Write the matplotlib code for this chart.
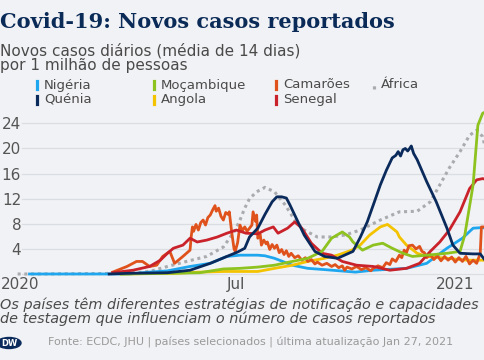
import matplotlib
matplotlib.use("Agg")
import matplotlib.pyplot as plt
from matplotlib.lines import Line2D
from matplotlib.patches import Ellipse

# days counted from 2020-01-01, values = new cases per 1M (14-day avg)
NIGERIA_DAYS = [8, 92, 109, 124, 143, 160, 174, 185, 200, 206, 214, 229, 242, 256, 282, 297, 325, 342, 359, 372, 381, 389, 391]
NIGERIA_VALUES = [0, 0, 0.3, 0.5, 1.2, 1.7, 2.8, 3.0, 3.0, 2.9, 2.5, 1.4, 0.9, 0.7, 0.3, 0.6, 0.9, 1.7, 4.1, 5.7, 7.3, 7.4, 7.3]

KENYA_DAYS = [75, 90, 124, 143, 160, 174, 183, 189, 193, 200, 206, 212, 216, 220, 224, 227, 231, 239, 248, 256, 267, 280,
              286, 292, 298, 303, 308, 313, 316, 318, 320, 322, 324, 326, 328, 329, 331, 334, 342, 350, 359, 364, 370, 381, 387, 391]
KENYA_VALUES = [0, 0.1, 0.2, 0.6, 1.7, 2.8, 3.5, 4.1, 5.9, 7.3, 9.5, 11.5, 12.3, 12.3, 12.1, 11.0, 9.4, 6.2, 3.6, 2.8, 2.5, 3.6,
                5.8, 8.3, 11.5, 14.2, 16.5, 18.5, 18.9, 19.5, 18.8, 19.8, 20.0, 19.6, 20.1, 20.4, 19.2, 18.2, 14.7, 11.5, 7.3, 4.6, 3.3, 3.2, 3.2, 2.2]

MOZAMBIQUE_DAYS = [85, 151, 171, 185, 200, 214, 229, 242, 254, 262, 271, 277, 280, 288, 297, 305, 313, 322, 330, 342, 359, 370, 374, 381, 385, 389, 391]
MOZAMBIQUE_VALUES = [0, 0.2, 0.8, 0.9, 1.1, 1.4, 2.0, 2.5, 3.6, 5.7, 6.7, 5.9, 5.1, 3.8, 4.6, 4.9, 4.1, 3.3, 2.8, 3.0, 3.3, 3.6, 6.2, 14.2, 23.7, 25.6, 25.8]

ANGOLA_DAYS = [85, 130, 151, 172, 200, 214, 229, 242, 256, 267, 279, 286, 294, 303, 309, 317, 319, 325, 334, 342, 359, 376, 389, 391]
ANGOLA_VALUES = [0, 0.1, 0.3, 0.4, 0.4, 0.9, 1.4, 2.0, 2.5, 3.0, 3.8, 4.6, 6.2, 7.5, 7.9, 6.7, 5.9, 4.6, 3.3, 2.8, 2.5, 2.2, 2.2, 2.2]

CAMEROON_DAYS = [78, 90, 98, 103, 109, 115, 120, 126, 130, 137, 143, 144, 145, 146, 148, 150, 152, 154, 156, 158, 160, 162,
                 164, 165, 167, 169, 171, 173, 175, 176, 178, 180, 181, 183, 185, 187, 189, 191, 193, 195, 196, 198, 199,
                 200, 202, 203, 205, 207, 208, 210, 212, 214, 216, 218, 220, 222, 224, 226, 228, 231, 234, 237, 240, 242,
                 245, 248, 250, 254, 258, 262, 265, 268, 271, 273, 275, 279, 283, 287, 291, 295, 297, 301, 305, 308, 311,
                 313, 316, 319, 321, 323, 325, 327, 330, 333, 336, 338, 340, 342, 345, 348, 351, 354, 357, 360, 363, 366,
                 369, 372, 375, 378, 381, 384, 387, 388, 391]
CAMEROON_VALUES = [0.3, 1.2, 2.0, 2.0, 1.2, 1.4, 2.8, 3.6, 1.7, 2.8, 3.8, 6.0, 7.5, 6.8, 7.9, 7.0, 8.2, 8.6, 7.8, 9.0, 9.4, 10.2,
                   10.9, 10.0, 10.5, 9.2, 8.6, 9.8, 9.5, 9.9, 6.7, 4.0, 3.6, 5.0, 7.8, 6.9, 7.5, 6.8, 7.3, 7.8, 9.9, 8.4, 9.4,
                   5.7, 6.3, 4.6, 5.4, 4.8, 5.1, 3.9, 4.7, 4.1, 4.6, 3.4, 3.9, 3.1, 3.7, 2.8, 3.3, 2.6, 2.9, 2.2, 2.6, 2.0,
                   2.3, 1.6, 1.9, 1.4, 1.7, 1.2, 1.5, 1.0, 1.3, 0.6, 1.1, 0.8, 1.2, 0.7, 1.0, 0.5, 0.9, 1.3, 1.0, 1.8, 1.5,
                   2.4, 2.0, 3.0, 2.6, 3.8, 3.4, 4.5, 4.6, 4.0, 4.4, 3.6, 3.4, 2.6, 3.1, 2.3, 2.9, 2.1, 2.8, 2.2, 2.7, 1.9,
                   2.6, 2.0, 2.8, 1.6, 2.2, 1.7, 3.3, 7.5, 7.5]

SENEGAL_DAYS = [78, 95, 109, 118, 124, 129, 137, 143, 149, 157, 166, 174, 182, 190, 200, 206, 213, 217, 225, 231, 237, 245,
                254, 262, 271, 283, 297, 311, 325, 336, 345, 353, 361, 370, 378, 384, 389, 391]
SENEGAL_VALUES = [0.2, 0.6, 1.2, 2.2, 3.3, 4.1, 4.6, 5.7, 5.1, 5.4, 5.9, 6.5, 7.0, 6.5, 6.4, 7.0, 7.5, 6.5, 7.3, 8.3, 7.3, 4.9,
                  3.3, 3.0, 2.0, 1.4, 1.2, 0.6, 0.9, 1.7, 3.6, 5.1, 7.0, 9.9, 13.6, 15.0, 15.2, 15.1]

AFRICA_DAYS = [-2, 8, 90, 109, 124, 140, 157, 171, 181, 185, 189, 193, 199, 206, 214, 223, 231, 239, 250, 262, 273, 286,
               303, 319, 334, 345, 353, 361, 370, 378, 384, 389, 391]
AFRICA_VALUES = [0, 0, 0.1, 0.4, 1.2, 2.0, 2.8, 4.3, 7.0, 8.6, 10.5, 12.0, 13.1, 13.8, 13.1, 11.0, 8.6, 7.0, 5.9, 5.9, 6.2, 7.0,
                 8.6, 9.9, 10.0, 11.5, 14.2, 16.9, 19.5, 22.1, 22.9, 21.9, 20.3]

Y_TICKS = [0, 4, 8, 12, 16, 20, 24]
Y_TICK_LABELS = ["", "4", "8", "12", "16", "20", "24"]
X_TICKS = [0, 182, 366]
X_TICK_LABELS = ["2020", "Jul", "2021"]

BG = "#f1f2f5"
GRID = "#dadde1"
TEXT = "#4a4a4a"

fig = plt.figure(figsize=(4.85, 3.6), dpi=100, facecolor=BG)
W, H = 485, 360
ax = fig.add_axes([17 / W, 1 - 276.5 / H, 468 / W, 168.8 / H], facecolor=BG)

ax.plot(AFRICA_DAYS, AFRICA_VALUES, color="#a9abae", lw=2.2, ls=(0, (1, 1.2)), zorder=2)
ax.plot(NIGERIA_DAYS, NIGERIA_VALUES, color="#1ea6ef", lw=2, zorder=3)
ax.plot(ANGOLA_DAYS, ANGOLA_VALUES, color="#f4c300", lw=2, zorder=3)
ax.plot(CAMEROON_DAYS, CAMEROON_VALUES, color="#e0521c", lw=2, zorder=4)
ax.plot(SENEGAL_DAYS, SENEGAL_VALUES, color="#c9222a", lw=2, zorder=5)
ax.plot(MOZAMBIQUE_DAYS, MOZAMBIQUE_VALUES, color="#8dc21f", lw=2, zorder=5)
ax.plot(KENYA_DAYS, KENYA_VALUES, color="#0b2a5c", lw=2, zorder=6)

ax.set_xlim(-2.5, 391)
ax.set_ylim(-0.4, 26.5)
for y in Y_TICKS:
    ax.axhline(y, xmin=5 / 468, color=GRID, lw=0.9, zorder=1)

for s in ax.spines.values():
    s.set_visible(False)
ax.set_yticks(Y_TICKS)
ax.set_yticklabels(Y_TICK_LABELS)
ax.set_xticks(X_TICKS)
ax.set_xticklabels(X_TICK_LABELS)
ax.tick_params(axis="y", length=0, pad=-3, labelsize=11, labelcolor="#555555")
ax.tick_params(axis="x", length=0, pad=0.5, labelsize=11, labelcolor="#555555")

# header
fig.text(0, 1 - 22 / H, "Covid-19: Novos casos reportados", family="DejaVu Serif", weight="bold",
         size=15, color="#0a2a57", va="center", ha="left")
fig.text(0, 1 - 58 / H, "Novos casos diários (média de 14 dias)\npor 1 milhão de pessoas", size=11,
         color=TEXT, va="center", linespacing=1.0)

# legend
legend_items = [
    ("Nigéria", "#1ea6ef", 37, 85, "-"),
    ("Quénia", "#0b2a5c", 37, 99.5, "-"),
    ("Moçambique", "#8dc21f", 154, 85, "-"),
    ("Angola", "#f4c300", 154, 99.5, "-"),
    ("Camarões", "#e0521c", 276, 85, "-"),
    ("Senegal", "#c9222a", 276, 99.5, "-"),
    ("África", "#a9abae", 374, 85, ":"),
]
for label, color, px, py, ls in legend_items:
    fig.add_artist(Line2D([px / W, px / W], [1 - (py + 4) / H, 1 - (py - 4) / H], color=color, lw=2.3,
                          ls=ls, transform=fig.transFigure))
    fig.text((px + 7) / W, 1 - py / H, label, size=9.5, color=TEXT, va="center", ha="left")

# footnote
fig.text(0, 1 - 311.5 / H, "Os países têm diferentes estratégias de notificação e capacidades\n"
         "de testagem que influenciam o número de casos reportados", size=10.4,
         style="italic", color=TEXT, va="center", linespacing=0.95)

logo = Ellipse((9 / W, 1 - 343 / H), 24 / W, 11 / H, transform=fig.transFigure, color="#0b2a5c")
fig.add_artist(logo)
fig.text(9 / W, 1 - 343 / H, "DW", size=6, weight="bold", color="white", ha="center", va="center")
fig.text(48 / W, 1 - 343 / H, "Fonte: ECDC, JHU | países selecionados | última atualização Jan 27, 2021",
         size=8, color="#9a9a9a", va="center")

fig.savefig("out.png", dpi=100, facecolor=BG)
